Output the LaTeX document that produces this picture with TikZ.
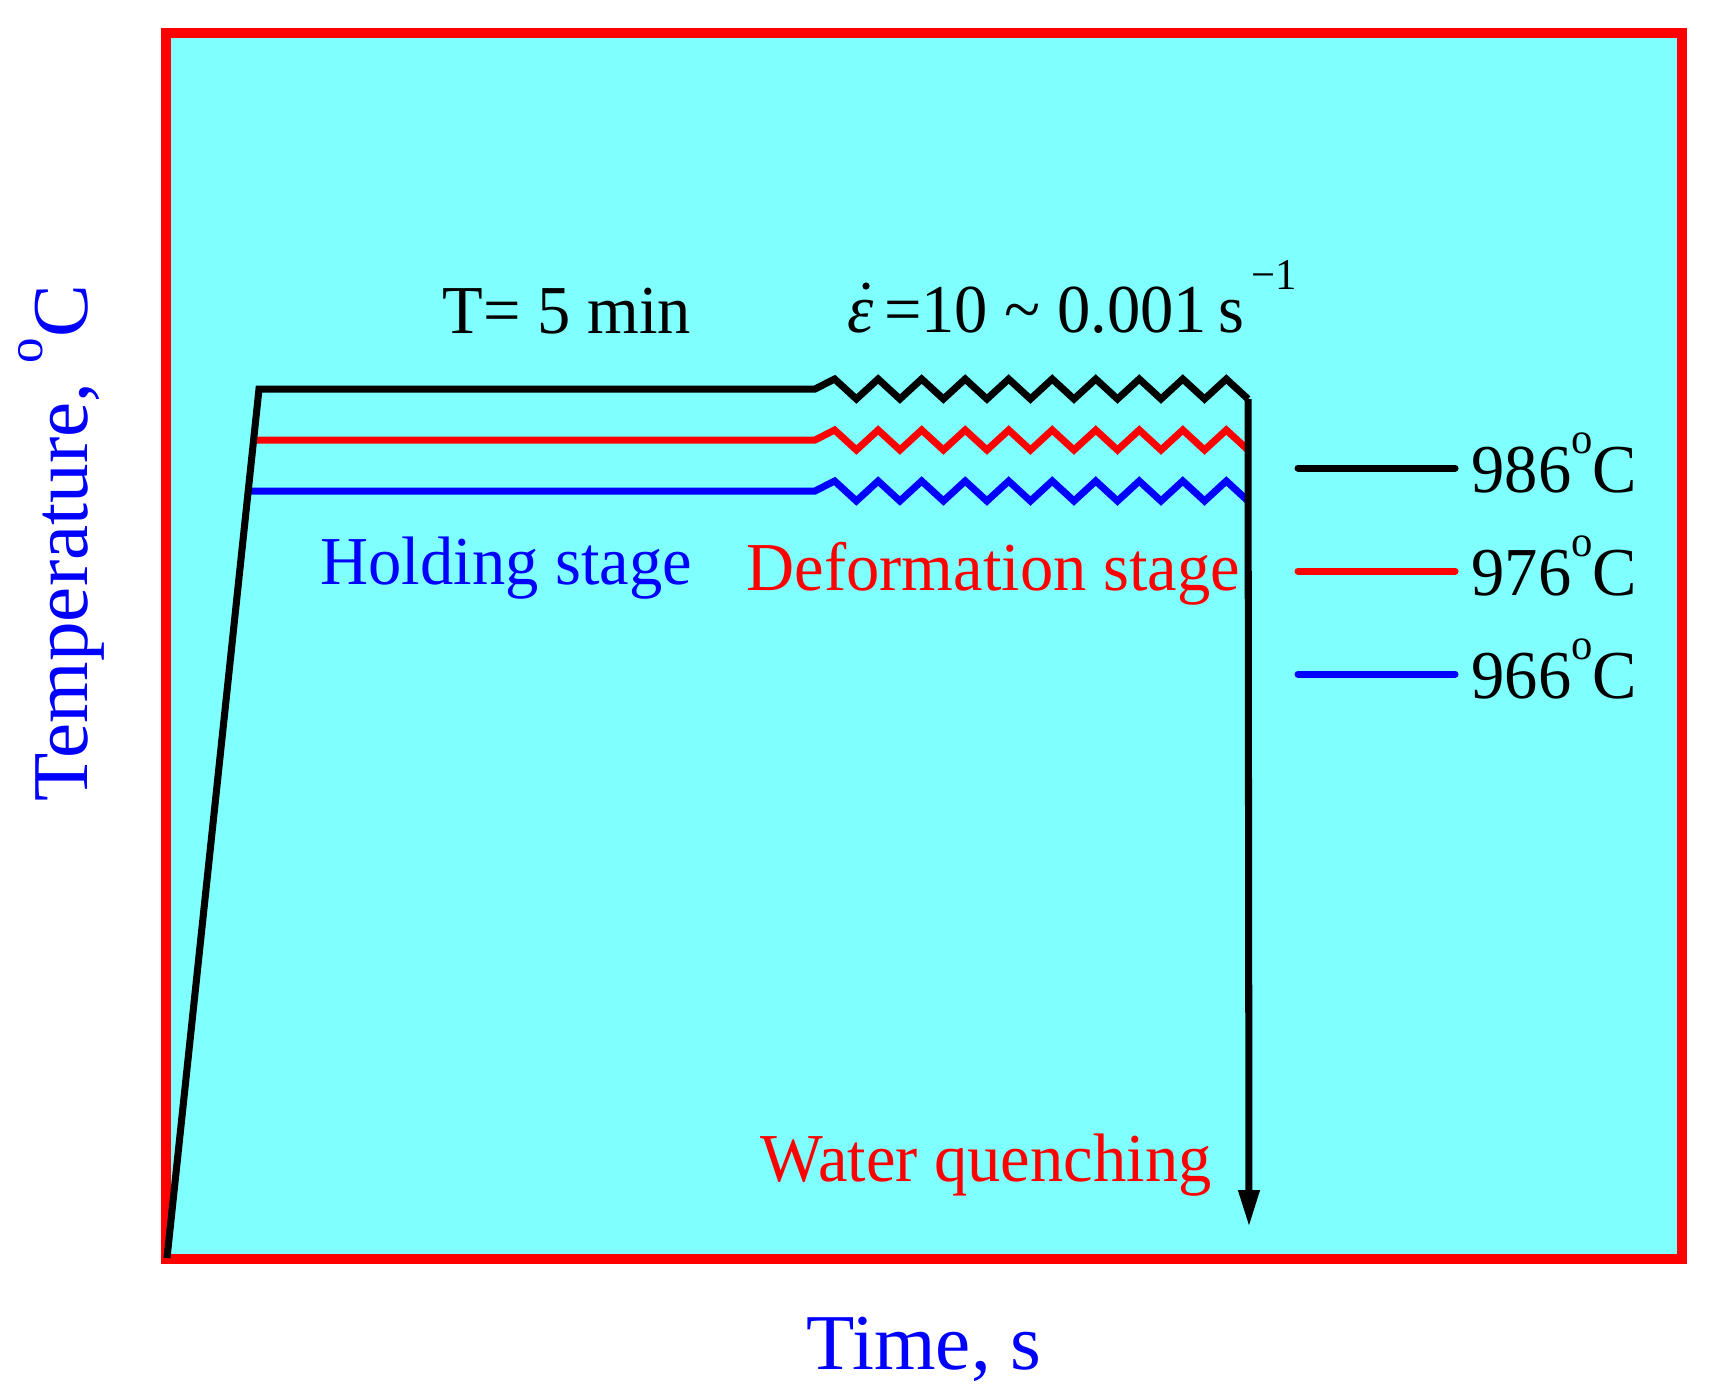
\documentclass[tikz,border=0pt]{standalone}
\usepackage{fontspec}
\setmainfont{Liberation Serif}
\newfontfamily\narrowfont[FakeStretch=0.97]{Liberation Serif}
\usetikzlibrary{arrows.meta}
\definecolor{bgcyan}{RGB}{128,255,255}
\newcommand\degsup{\raisebox{0.56em}{\fontsize{12.5}{12}\selectfont o}}
\newcommand\degsupB{\raisebox{0.56em}{\fontsize{14.5}{14}\selectfont o}}
\newcommand\zzpath[1]{\foreach \j in {0,...,19}{ -- ({834.6+\j*21.76},{#1+10*(2*mod(\j,2)-1)}) }}
\begin{document}
\begin{tikzpicture}[x=0.01cm,y=-0.01cm,
  curve/.style={line width=2pt},
  legline/.style={line width=2pt,line cap=round},
  lbl/.style={anchor=base west,inner sep=0pt,font=\narrowfont\fontsize{19.5}{20}\selectfont},
  axislbl/.style={inner sep=0pt,anchor=base,font=\fontsize{22.5}{24}\selectfont,text=blue}]
\useasboundingbox (0,0) rectangle (1713,1399);
\draw[red,fill=bgcyan,line width=2.8pt] (166,33) rectangle (1682,1259);
% coordinates
\coordinate (start) at (167,1258);
\coordinate (topk) at (259,389);
\coordinate (redst) at (253.6,440);
\coordinate (bluest) at (248.3,491);
\coordinate (kend) at (1248,399);
\coordinate (tip) at (1249,1227);
% curves
\draw[curve,red] (redst) -- (815,440) \zzpath{440};
\draw[curve,blue] (bluest) -- (815,491) \zzpath{491};
\draw[curve,black] (start) -- (topk) -- (815,389) \zzpath{389};
\draw[curve,black,-{Triangle[length=0.37cm,width=0.2cm]}] (kend) -- (tip);
% legend
\coordinate (l1a) at (1298,468); \coordinate (l1b) at (1455,468);
\coordinate (l2a) at (1298,571); \coordinate (l2b) at (1455,571);
\coordinate (l3a) at (1298,674); \coordinate (l3b) at (1455,674);
\draw[legline,black] (l1a) -- (l1b);
\draw[legline,red] (l2a) -- (l2b);
\draw[legline,blue] (l3a) -- (l3b);
\node[lbl] (t1) at (1471,492) {986\degsup C};
\node[lbl] (t2) at (1471,595) {976\degsup C};
\node[lbl] (t3) at (1471,698) {966\degsup C};
% labels
\node[lbl] (tmin) at (442,333) {T= 5 min};
\node[lbl] (rate) at (847,332) {\textit{ε}\hspace{0.15em}=10 \symbol{"7E} 0.001\,s\raisebox{0.62em}{\fontsize{12.5}{12}\selectfont\,−1}};
\coordinate (epsdot) at (866,286);
\fill[black] (epsdot) circle (3.6);
\node[lbl,text=blue] (hold) at (320,584) {Holding stage};
\node[lbl,text=red] (def) at (746,590) {Deformation stage};
\node[lbl,text=red] (wq) at (760,1181) {Water quenching};
\node[axislbl] (xl) at (924,1369) {Time, s};
\node[axislbl,rotate=90] (yl) at (87,543) {Temperature, \degsupB C};
\end{tikzpicture}
\end{document}
